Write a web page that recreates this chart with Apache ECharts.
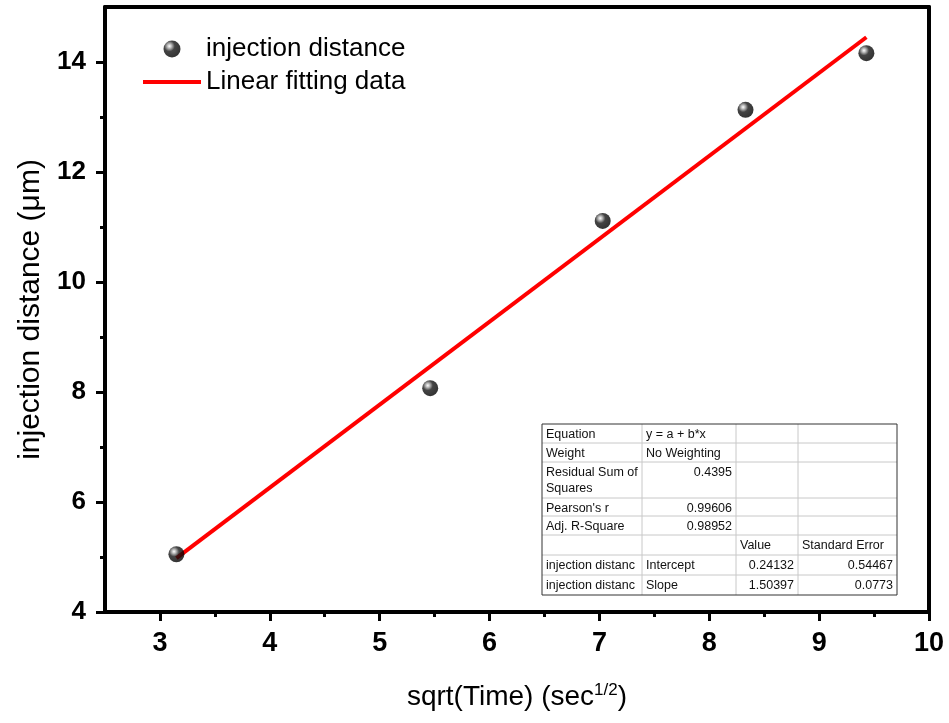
<!DOCTYPE html>
<html>
<head>
<meta charset="utf-8">
<script src="https://cdn.jsdelivr.net/npm/echarts@6/dist/echarts.min.js"></script>
<style>
  html, body { margin: 0; padding: 0; background: #fff; }
  #chart { width: 949px; height: 723px; }
</style>
</head>
<body>
<div id="chart"></div>
<script>
// measured points
const sqrtTime = [3.15, 5.46, 7.03, 8.33, 9.43];
const injectionDistance = [5.05, 8.07, 11.11, 13.13, 14.16];

// fitted line, end points
const fitX = [3.15, 9.43];
const fitY = [4.98, 14.45];

const xTicks = [3, 4, 5, 6, 7, 8, 9, 10];
const xMinorTicks = [3.5, 4.5, 5.5, 6.5, 7.5, 8.5, 9.5];
const yTicks = [4, 6, 8, 10, 12, 14];
const yMinorTicks = [5, 7, 9, 11, 13];

// fit report table
const tableRows = [
    ["Equation", "y = a + b*x", "", ""],
    ["Weight", "No Weighting", "", ""],
    ["Residual Sum of\nSquares", "0.4395", "", ""],
    ["Pearson's r", "0.99606", "", ""],
    ["Adj. R-Square", "0.98952", "", ""],
    ["", "", "Value", "Standard Error"],
    ["injection distanc", "Intercept", "0.24132", "0.54467"],
    ["injection distanc", "Slope", "1.50397", "0.0773"]
];
const rowHeights = [19, 19, 36, 18, 19, 20, 20, 20];
const colWidths = [100, 94, 62, 99];

const FONT = "'Liberation Sans', Arial, sans-serif";
const chart = echarts.init(document.getElementById("chart"));

function buildTable(x0, y0) {
    const children = [];
    const totalW = colWidths.reduce((a, b) => a + b, 0);
    const totalH = rowHeights.reduce((a, b) => a + b, 0);
    let y = y0;
    tableRows.forEach((row, r) => {
        let x = x0;
        row.forEach((cell, c) => {
            const w = colWidths[c];
            const isNum = /^[0-9.]+$/.test(cell);
            if (cell) {
                children.push({
                    type: "text",
                    x: isNum ? x + w - 4 : x + 4,
                    y: y + 3,
                    style: {
                        text: cell,
                        fill: "#111",
                        font: "12.5px " + FONT,
                        align: isNum ? "right" : "left",
                        verticalAlign: "top",
                        lineHeight: 16
                    }
                });
            }
            x += w;
        });
        y += rowHeights[r];
        if (r < tableRows.length - 1) {
            children.push({
                type: "line",
                shape: { x1: x0, y1: y, x2: x0 + totalW, y2: y },
                style: { stroke: "#c8c8c8", lineWidth: 1 }
            });
        }
    });
    let cx = x0;
    colWidths.slice(0, -1).forEach((w) => {
        cx += w;
        children.push({
            type: "line",
            shape: { x1: cx, y1: y0, x2: cx, y2: y0 + totalH },
            style: { stroke: "#c8c8c8", lineWidth: 1 }
        });
    });
    children.push({
        type: "rect",
        shape: { x: x0, y: y0, width: totalW, height: totalH },
        style: { fill: "none", stroke: "#333", lineWidth: 1 }
    });
    return children;
}

const ballColor = new echarts.graphic.RadialGradient(0.35, 0.33, 0.7, [
    { offset: 0, color: "#ffffff" },
    { offset: 0.18, color: "#aaaaaa" },
    { offset: 0.45, color: "#151515" },
    { offset: 1, color: "#000000" }
]);

const option = {
    backgroundColor: "#ffffff",
    animation: false,
    grid: { left: 105, right: 20, top: 7, bottom: 111 },
    legend: {
        orient: "vertical",
        left: 138,
        top: 31,
        itemWidth: 58,
        itemHeight: 17,
        itemGap: 7,
        textStyle: {
            fontFamily: FONT,
            fontSize: 26,
            color: "#000"
        },
        data: [
            { name: "injection distance" },
            { name: "Linear fitting data", icon: "path://M0,0H58V4H0Z" }
        ]
    },
    xAxis: [
        {
            type: "value",
            min: 2.5,
            max: 10,
            position: "bottom",
            splitLine: { show: false },
            axisLine: { onZero: false, lineStyle: { color: "#000", width: 4 } },
            axisTick: { customValues: xTicks, length: 9, lineStyle: { color: "#000", width: 3 } },
            axisLabel: {
                customValues: xTicks,
                margin: 18,
                fontFamily: FONT,
                fontWeight: "bold",
                fontSize: 27,
                color: "#000"
            },
            name: "{a|sqrt(Time) (sec}{s|1/2}{a|)}",
            nameLocation: "middle",
            nameGap: 70,
            nameTextStyle: {
                rich: {
                    a: { fontFamily: FONT, fontSize: 28, color: "#000" },
                    s: { fontFamily: FONT, fontSize: 17, color: "#000", verticalAlign: "top", padding: [0, 0, 14, 0] }
                }
            }
        },
        {
            type: "value",
            min: 2.5,
            max: 10,
            position: "bottom",
            splitLine: { show: false },
            axisLine: { show: false, onZero: false },
            axisTick: { customValues: xMinorTicks, length: 5, lineStyle: { color: "#000", width: 3 } },
            axisLabel: { show: false }
        },
        {
            type: "value",
            min: 2.5,
            max: 10,
            position: "top",
            splitLine: { show: false },
            axisLine: { onZero: false, lineStyle: { color: "#000", width: 4 } },
            axisTick: { show: false },
            axisLabel: { show: false }
        }
    ],
    yAxis: [
        {
            type: "value",
            min: 4,
            max: 15,
            position: "left",
            splitLine: { show: false },
            axisLine: { onZero: false, lineStyle: { color: "#000", width: 4 } },
            axisTick: { customValues: yTicks, length: 9, lineStyle: { color: "#000", width: 3 } },
            axisLabel: {
                customValues: yTicks,
                margin: 19,
                fontFamily: FONT,
                fontWeight: "bold",
                fontSize: 26,
                color: "#000"
            },
            name: "injection distance (\u03bcm)",
            nameLocation: "middle",
            nameGap: 59,
            nameTextStyle: { fontFamily: FONT, fontSize: 30, color: "#000" }
        },
        {
            type: "value",
            min: 4,
            max: 15,
            position: "left",
            splitLine: { show: false },
            axisLine: { show: false, onZero: false },
            axisTick: { customValues: yMinorTicks, length: 5, lineStyle: { color: "#000", width: 3 } },
            axisLabel: { show: false }
        },
        {
            type: "value",
            min: 4,
            max: 15,
            position: "right",
            splitLine: { show: false },
            axisLine: { onZero: false, lineStyle: { color: "#000", width: 4 } },
            axisTick: { show: false },
            axisLabel: { show: false }
        }
    ],
    graphic: buildTable(542, 424),
    series: [
        {
            name: "Linear fitting data",
            type: "line",
            data: fitX.map((x, i) => [x, fitY[i]]),
            symbol: "none",
            lineStyle: { color: "#ff0000", width: 4 },
            itemStyle: { color: "#ff0000" },
            z: 2
        },
        {
            name: "injection distance",
            type: "scatter",
            data: sqrtTime.map((x, i) => [x, injectionDistance[i]]),
            symbol: "circle",
            symbolSize: 16,
            itemStyle: { color: ballColor },
            z: 3
        }
    ]
};

chart.setOption(option);
window.addEventListener("resize", () => chart.resize());
</script>
</body>
</html>
